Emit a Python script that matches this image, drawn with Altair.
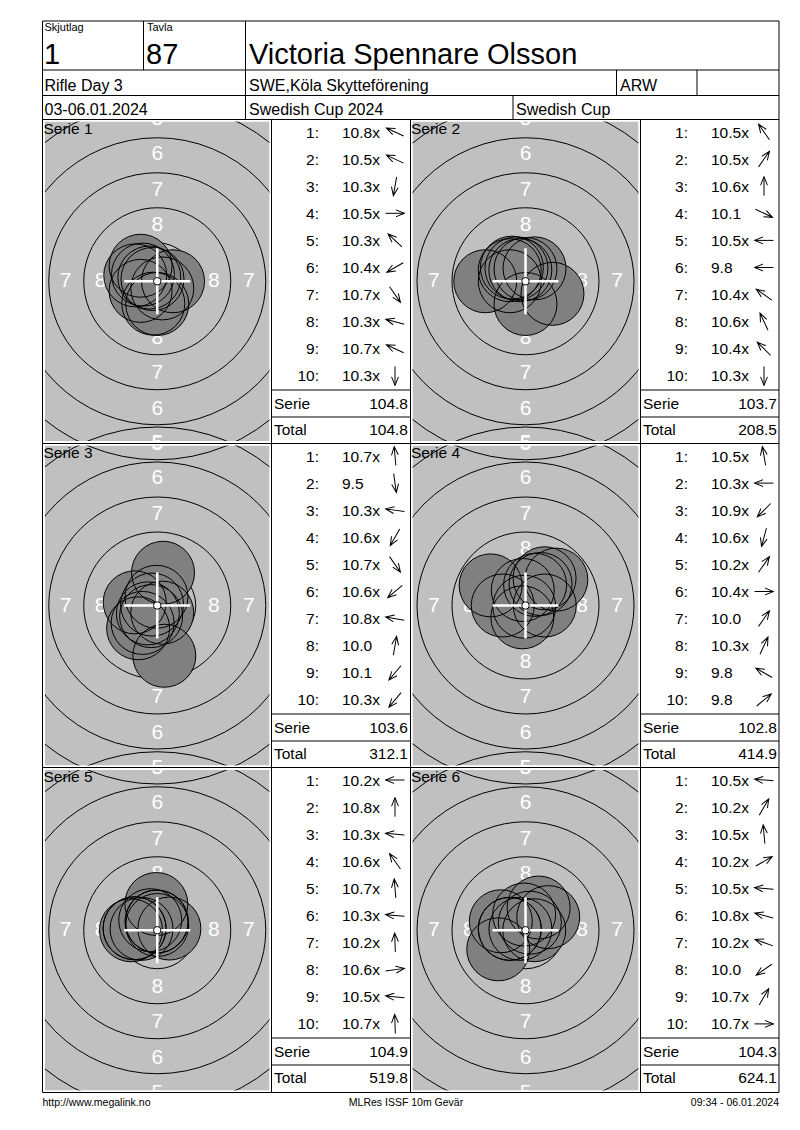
"""Resultatkort MLRes ISSF 10m Gevär - återskapat med Altair."""

import altair as alt
import pandas as pd

# --- uppgifter avlästa från kortet ---
relay = "1"
lane = "87"
shooter = "Victoria Spennare Olsson"
event = "Rifle Day 3"
club = "SWE,Köla Skytteförening"
shooter_class = "ARW"
dates = "03-06.01.2024"
competition = "Swedish Cup 2024"
cup = "Swedish Cup"
footer_left = "http://www.megalink.no"
footer_mid = "MLRes ISSF 10m Gevär"
footer_right = "09:34 - 06.01.2024"

series_names = ["Serie 1", "Serie 2", "Serie 3", "Serie 4", "Serie 5", "Serie 6"]

scores = [
    ["10.8x", "10.5x", "10.3x", "10.5x", "10.3x", "10.4x", "10.7x", "10.3x", "10.7x", "10.3x"],
    ["10.5x", "10.5x", "10.6x", "10.1", "10.5x", "9.8", "10.4x", "10.6x", "10.4x", "10.3x"],
    ["10.7x", "9.5", "10.3x", "10.6x", "10.7x", "10.6x", "10.8x", "10.0", "10.1", "10.3x"],
    ["10.5x", "10.3x", "10.9x", "10.6x", "10.2x", "10.4x", "10.0", "10.3x", "9.8", "9.8"],
    ["10.2x", "10.8x", "10.3x", "10.6x", "10.7x", "10.3x", "10.2x", "10.6x", "10.5x", "10.7x"],
    ["10.5x", "10.2x", "10.5x", "10.2x", "10.5x", "10.8x", "10.2x", "10.0", "10.7x", "10.7x"],
]

# riktning för varje skott (grader, moturs från höger), avläst från pilarna
directions = [
    [155, 155, 260, 0, 137, 210, 305, 165, 155, 270],
    [125, 55, 90, 335, 180, 180, 145, 115, 135, 270],
    [95, 278, 172, 240, 305, 220, 170, 80, 230, 230],
    [100, 180, 225, 255, 55, 0, 55, 65, 150, 40],
    [180, 90, 175, 125, 95, 175, 92, 8, 175, 92],
    [175, 60, 95, 30, 175, 165, 160, 215, 60, 0],
]

series_sums = ["104.8", "103.7", "103.6", "102.8", "104.9", "104.3"]
running_totals = ["104.8", "208.5", "312.1", "414.9", "519.8", "624.1"]

# ISSF 10m gevärstavla (mm)
ring_radius_mm = [2.75, 5.25, 7.75, 10.25, 12.75]
ring_labels = ["8", "7", "6", "5"]
ring_label_mm = [4.05, 6.55, 9.1, 11.6]
side_labels = ["8", "7"]  # bara dessa syns till vänster/höger

# --- layout (bildpunkter) ---
PX_PER_MM = 14
FONT = "Liberation Sans"
LEFT, RIGHT, TOP = 42.5, 779, 21
col_lines = [271.5, 410.5, 640.5]
row_tops = [119.5, 443.5, 767.5]
BOTTOM = 1092.5
panel_x = [(45, 269.5), (412.5, 638.5)]
panel_y = [(121.5, 441), (445.5, 765.5), (770, 1090.5)]
score_left = [271.5, 640.5]

XS = alt.Scale(domain=[8, 792], range=[0, 784])
YS = alt.Scale(domain=[8, 1122], range=[0, 1114])


def X(f):
    return alt.X(f"{f}:Q", scale=XS, axis=None)


def Y(f):
    return alt.Y(f"{f}:Q", scale=YS, axis=None)


panels = []
for i in range(6):
    r, c = divmod(i, 2)
    x0, x1 = panel_x[c]
    y0, y1 = panel_y[r]
    panels.append(dict(p=i, r=r, c=c, x0=x0, x1=x1, y0=y0, y1=y1,
                       cx=(x0 + x1) / 2, cy=(y0 + y1) / 2))
panel_df = pd.DataFrame(panels)

rings = pd.DataFrame([
    dict(x=p["cx"], y=p["cy"], size=(2 * rm * PX_PER_MM) ** 2)
    for p in panels for rm in ring_radius_mm
])

ring_text = []
for p in panels:
    for lab, m in zip(ring_labels, ring_label_mm):
        d = m * PX_PER_MM
        dirs = [(0, -1), (0, 1)]
        if lab in side_labels:
            dirs += [(-1, 0), (1, 0)]
        for dx, dy in dirs:
            ring_text.append(dict(x=p["cx"] + dx * d, y=p["cy"] + dy * d, text=lab))
ring_text = pd.DataFrame(ring_text)

shots = pd.DataFrame([
    dict(p=i, n=n + 1, value=float(s.rstrip("x")), dir=directions[i][n],
         cx=panels[i]["cx"], cy=panels[i]["cy"])
    for i in range(6) for n, s in enumerate(scores[i])
])

shot_base = alt.Chart(shots).transform_calculate(
    d="(10.95 - datum.value) * 2.5",
    sx=f"datum.cx + {PX_PER_MM} * datum.d * cos(datum.dir * PI / 180)",
    sy=f"datum.cy - {PX_PER_MM} * datum.d * sin(datum.dir * PI / 180)",
)

cross = []
for p in panels:
    cross.append(dict(x=p["cx"] - 33, x2=p["cx"] + 33, y=p["cy"], y2=p["cy"]))
    cross.append(dict(x=p["cx"], x2=p["cx"], y=p["cy"] - 33, y2=p["cy"] + 33))
cross = pd.DataFrame(cross)

# vita masker runt tavlorna (klipper ringarna)
masks = pd.DataFrame([
    dict(x=0, x2=800, y=0, y2=panel_y[0][0]),
    dict(x=0, x2=800, y=panel_y[2][1], y2=1130),
    dict(x=0, x2=panel_x[0][0], y=0, y2=1130),
    dict(x=panel_x[1][1], x2=800, y=0, y2=1130),
    dict(x=panel_x[0][1], x2=panel_x[1][0], y=0, y2=1130),
    dict(x=0, x2=800, y=panel_y[0][1], y2=panel_y[1][0]),
    dict(x=0, x2=800, y=panel_y[1][1], y2=panel_y[2][0]),
])

lines = [
    (LEFT, RIGHT, TOP, TOP), (LEFT, RIGHT, BOTTOM, BOTTOM),
    (LEFT, LEFT, TOP, BOTTOM), (RIGHT, RIGHT, TOP, BOTTOM),
    (LEFT, RIGHT, 70, 70), (LEFT, RIGHT, 95.5, 95.5), (LEFT, RIGHT, 119.5, 119.5),
    (143.5, 143.5, TOP, 70), (245.5, 245.5, TOP, 119.5),
    (616.5, 616.5, 70, 95.5), (697, 697, 70, 95.5), (513, 513, 95.5, 119.5),
    (LEFT, RIGHT, row_tops[1], row_tops[1]), (LEFT, RIGHT, row_tops[2], row_tops[2]),
]
for xl in col_lines:
    lines.append((xl, xl, 119.5, BOTTOM))
for rt in row_tops:
    for sl in score_left:
        for off in (270.5, 297.5):
            lines.append((sl, sl + 138.5, rt + off, rt + off))
lines = pd.DataFrame(lines, columns=["x", "x2", "y", "y2"])

texts = [
    dict(x=44.5, y=31, text="Skjutlag", size=11, align="left"),
    dict(x=147, y=31, text="Tavla", size=11, align="left"),
    dict(x=44, y=63.5, text=relay, size=29, align="left"),
    dict(x=146, y=63.5, text=lane, size=29, align="left"),
    dict(x=249, y=63.5, text=shooter, size=29, align="left"),
    dict(x=44.5, y=90.5, text=event, size=16, align="left"),
    dict(x=249, y=90.5, text=club, size=16, align="left"),
    dict(x=620, y=90.5, text=shooter_class, size=16, align="left"),
    dict(x=44.5, y=114.5, text=dates, size=16, align="left"),
    dict(x=249, y=114.5, text=competition, size=16, align="left"),
    dict(x=516, y=114.5, text=cup, size=16, align="left"),
    dict(x=42.5, y=1106, text=footer_left, size=10.5, align="left"),
    dict(x=406, y=1106, text=footer_mid, size=10.5, align="center"),
    dict(x=779, y=1106, text=footer_right, size=10.5, align="right"),
]
arrows = []
for i, p in enumerate(panels):
    rt = row_tops[p["r"]]
    sl = score_left[p["c"]]
    texts.append(dict(x=p["x0"] - 1.5, y=rt + 14.5, text=series_names[i], size=15.5, align="left"))
    for n in range(10):
        yb = rt + 18 + 27.1 * n
        texts.append(dict(x=sl + 47.5, y=yb, text=f"{n + 1}:", size=15.5, align="right"))
        texts.append(dict(x=sl + 70.5, y=yb, text=scores[i][n], size=15.5, align="left"))
        arrows.append(dict(x=sl + 123.5, y=yb - 5.5, rot=(360 - directions[i][n]) % 360))
    texts.append(dict(x=sl + 2.5, y=rt + 289, text="Serie", size=15.5, align="left"))
    texts.append(dict(x=sl + 136.5, y=rt + 289, text=series_sums[i], size=15.5, align="right"))
    texts.append(dict(x=sl + 2.5, y=rt + 315.5, text="Total", size=15.5, align="left"))
    texts.append(dict(x=sl + 136.5, y=rt + 315.5, text=running_totals[i], size=15.5, align="right"))
texts = pd.DataFrame(texts)
arrows = pd.DataFrame(arrows)

ARROW = "M-1,0L1,0M0.1,-0.36L1,0L0.1,0.36"

layers = [
    alt.Chart(panel_df).mark_rect(color="#c0c0c0").encode(
        x=X("x0"), x2="x1", y=Y("y0"), y2="y1"),
    alt.Chart(rings).mark_point(shape="circle", filled=False, color="black",
                                strokeWidth=1, opacity=1, clip=True).encode(
        x=X("x"), y=Y("y"), size=alt.Size("size:Q", scale=None)),
    alt.Chart(ring_text).mark_text(font=FONT, fontSize=21, color="white",
                                   baseline="middle", align="center", clip=True).encode(
        x=X("x"), y=Y("y"), text="text:N"),
    shot_base.mark_point(shape="circle", filled=True, color="#808080",
                         opacity=1, size=3969, strokeWidth=0).encode(x=X("sx"), y=Y("sy")),
    shot_base.mark_point(shape="circle", filled=False, color="black",
                         opacity=1, size=3969, strokeWidth=1).encode(x=X("sx"), y=Y("sy")),
    alt.Chart(cross).mark_rule(color="white", strokeWidth=2.5).encode(
        x=X("x"), x2="x2", y=Y("y"), y2="y2"),
    alt.Chart(panel_df).mark_point(shape="circle", filled=True, fill="white", stroke="black",
                                   strokeWidth=1, opacity=1, size=56).encode(x=X("cx"), y=Y("cy")),
    alt.Chart(masks).mark_rect(color="white").encode(x=X("x"), x2="x2", y=Y("y"), y2="y2"),
    alt.Chart(lines).mark_rule(color="black", strokeWidth=1).encode(
        x=X("x"), x2="x2", y=Y("y"), y2="y2"),
]
for al in ["left", "center", "right"]:
    layers.append(
        alt.Chart(texts[texts["align"] == al]).mark_text(
            font=FONT, color="black", align=al, baseline="alphabetic").encode(
            x=X("x"), y=Y("y"), text="text:N", size=alt.Size("size:Q", scale=None)))
layers.append(
    alt.Chart(arrows).mark_point(shape=ARROW, filled=False, color="black", strokeWidth=1,
                                 opacity=1, size=361).encode(
        x=X("x"), y=Y("y"), angle=alt.Angle("rot:Q", scale=None)))

chart = (
    alt.layer(*layers)
    .properties(width=784, height=1114, padding=0,
                autosize=alt.AutoSizeParams(type="none"), background="white")
    .configure_view(stroke=None)
)

chart.save("out.html", embed_options={"renderer": "svg", "actions": False})
